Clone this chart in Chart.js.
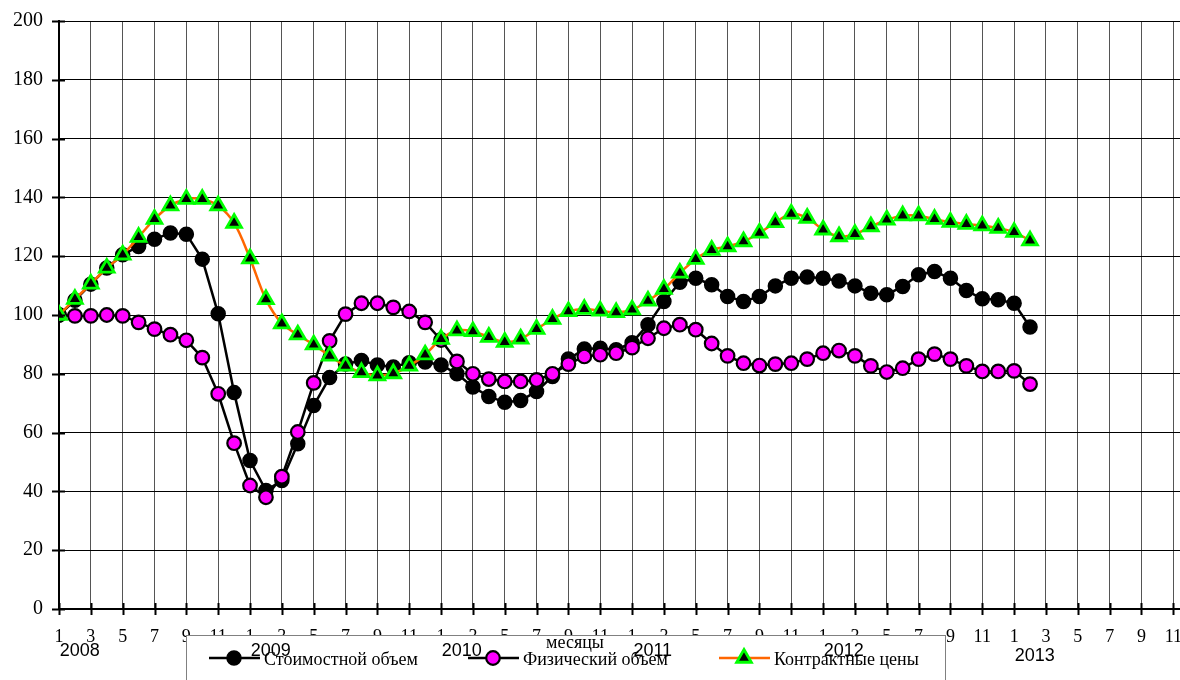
<!DOCTYPE html>
<html>
<head>
<meta charset="utf-8">
<script src="https://cdn.jsdelivr.net/npm/chart.js@4.4.1/dist/chart.umd.min.js"></script>
<style>
  html, body { margin: 0; padding: 0; background: #fff; }
  #wrap { width: 1180px; height: 680px; position: relative; }
</style>
</head>
<body>
<div id="wrap"><canvas id="indexChart" width="1180" height="680"></canvas></div>
<script>
// Values (month index 0 = January 2008)
const YEARS = ['2008', '2009', '2010', '2011', '2012', '2013'];
const MONTH_TICKS = ['1', '3', '5', '7', '9', '11'];
const Y_TICKS = [0, 20, 40, 60, 80, 100, 120, 140, 160, 180, 200];

const SERIES_NAMES = ['Стоимостной объем', 'Физический объем', 'Контрактные цены'];

const valueVolume = [
  100, 105, 110.5, 116, 120.5, 123.3, 125.8, 127.9, 127.5, 119,
  100.4, 73.6, 50.5, 40.3, 43.7, 56.2, 69.2, 78.7, 83.3, 84.5,
  83, 82.3, 83.8, 84, 83, 80, 75.5, 72.3, 70.3, 70.9,
  74, 79.1, 85, 88.4, 88.7, 88.2, 90.6, 96.7, 104.6, 111.1,
  112.5, 110.3, 106.3, 104.6, 106.3, 109.9, 112.5, 112.9, 112.5, 111.6,
  109.9, 107.4, 106.9, 109.7, 113.7, 114.8, 112.5, 108.3, 105.5, 105.2,
  104, 95.9
];

const physicalVolume = [
  100, 99.7, 99.7, 100, 99.7, 97.5, 95.2, 93.3, 91.4, 85.5,
  73.2, 56.4, 42, 38, 45, 60.2, 76.9, 91.2, 100.3, 104,
  104, 102.6, 101.2, 97.5, 91.5, 84.2, 80, 78.2, 77.4, 77.4,
  77.9, 80, 83.3, 85.9, 86.5, 87, 88.9, 92.1, 95.5, 96.7,
  95, 90.3, 86.1, 83.6, 82.8, 83.3, 83.6, 85, 87, 87.9,
  86.1, 82.7, 80.6, 81.9, 85, 86.7, 85, 82.7, 80.8, 80.8,
  81, 76.5
];

const contractPrices = [
  100, 105.4, 110.6, 116, 120.5, 126.5, 132.6, 137.2, 139.4, 139.4,
  137.2, 131.3, 119.2, 105.3, 97.1, 93.3, 89.9, 86.1, 82.7, 80.5,
  79.4, 80.1, 82.7, 86.5, 91.8, 94.7, 94.4, 92.5, 90.8, 91.9,
  95.2, 98.6, 101.2, 102, 101.4, 100.9, 101.8, 104.8, 108.8, 114.3,
  119, 122.1, 123.3, 125, 127.9, 131.5, 134.4, 133, 129, 126.7,
  127.5, 130.1, 132.4, 133.8, 133.8, 132.6, 131.6, 130.9, 130.4, 129.6,
  128.2, 125.3
];

const SERIF = "'Liberation Serif', 'Times New Roman', serif";
const SANS = "'Liberation Sans', Arial, sans-serif";

// month index -> {x, y}
const toPoints = (arr) => arr.map((v, i) => ({ x: i, y: v }));

// tick positions: every odd month of every year (1,3,...,11)
const xTickValues = [];
YEARS.forEach((_, yi) => MONTH_TICKS.forEach((_, mi) => xTickValues.push(yi * 12 + mi * 2)));

// --------------------------------------------------------------------------
// plugin: tick marks across the axes, boxed legend, year captions
// --------------------------------------------------------------------------
const decorPlugin = {
  id: 'decor',
  afterDraw(chart) {
    const { ctx, chartArea, scales } = chart;
    const xs = scales.x, ys = scales.y;

    ctx.save();
    ctx.strokeStyle = '#000';
    ctx.lineWidth = 2;
    ctx.beginPath();
    xTickValues.forEach(v => {
      const px = Math.round(xs.getPixelForValue(v)) + 0.5;
      ctx.moveTo(px, chartArea.bottom - 6);
      ctx.lineTo(px, chartArea.bottom + 6);
    });
    Y_TICKS.forEach(v => {
      const py = Math.round(ys.getPixelForValue(v)) + 0.5;
      ctx.moveTo(chartArea.left - 7, py);
      ctx.lineTo(chartArea.left + 6, py);
    });
    ctx.stroke();

    // legend box
    ctx.fillStyle = '#fff';
    ctx.fillRect(186, 635, 759, 60);
    ctx.strokeStyle = '#808080';
    ctx.lineWidth = 1;
    ctx.strokeRect(186.5, 635.5, 759, 60);

    const itemX = [209, 468, 719];
    const ly = 658;
    chart.data.datasets.forEach((ds, i) => {
      const x0 = itemX[i];
      ctx.strokeStyle = ds.borderColor;
      ctx.lineWidth = ds.borderWidth;
      ctx.beginPath();
      ctx.moveTo(x0, ly);
      ctx.lineTo(x0 + 51, ly);
      ctx.stroke();

      ctx.fillStyle = ds.pointBackgroundColor;
      ctx.strokeStyle = ds.pointBorderColor;
      ctx.lineWidth = ds.pointBorderWidth;
      Chart.helpers.drawPoint(ctx, {
        pointStyle: ds.pointStyle || 'circle',
        radius: ds.pointRadius,
        rotation: 0,
        borderWidth: ds.pointBorderWidth
      }, x0 + 25, ly);

      ctx.fillStyle = '#000';
      ctx.font = '18px ' + SERIF;
      ctx.textAlign = 'left';
      ctx.textBaseline = 'middle';
      ctx.fillText(ds.label, x0 + 55, ly + 2);
    });

    // axis caption and years (drawn over the legend, as in the source)
    ctx.fillStyle = '#000';
    ctx.textAlign = 'center';
    ctx.textBaseline = 'middle';
    ctx.font = '18px ' + SERIF;
    ctx.fillText('месяцы', 575, 643);

    ctx.font = '18px ' + SANS;
    YEARS.forEach((yr, yi) => {
      const px = xs.getPixelForValue(yi * 12 + 1.3);
      ctx.fillText(yr, px, yi === YEARS.length - 1 ? 656 : 651);
    });
    ctx.restore();
  }
};

const ctx = document.getElementById('indexChart').getContext('2d');
new Chart(ctx, {
  type: 'line',
  data: {
    datasets: [
      {
        label: SERIES_NAMES[0],
        data: toPoints(valueVolume),
        borderColor: '#000000',
        borderWidth: 2.5,
        pointRadius: 7,
        pointBackgroundColor: '#000000',
        pointBorderColor: '#000000',
        pointBorderWidth: 1.5,
        tension: 0,
        order: 2
      },
      {
        label: SERIES_NAMES[1],
        data: toPoints(physicalVolume),
        borderColor: '#000000',
        borderWidth: 2.5,
        pointRadius: 6.8,
        pointBackgroundColor: '#FF00FF',
        pointBorderColor: '#000000',
        pointBorderWidth: 2.2,
        tension: 0,
        order: 1
      },
      {
        label: SERIES_NAMES[2],
        data: toPoints(contractPrices),
        borderColor: '#FF6600',
        borderWidth: 2.5,
        pointStyle: 'triangle',
        pointRadius: 8.5,
        pointBackgroundColor: '#000000',
        pointBorderColor: '#00FF00',
        pointBorderWidth: 2.8,
        tension: 0.35,
        order: 0
      }
    ]
  },
  options: {
    responsive: false,
    animation: false,
    devicePixelRatio: 1,
    layout: { autoPadding: false, padding: { top: 21, right: 0, bottom: 0, left: 0 } },
    scales: {
      x: {
        type: 'linear',
        min: 0,
        max: 70.42,
        afterBuildTicks(scale) {
          scale.ticks = xTickValues.map(v => ({ value: v }));
        },
        afterFit(scale) {
          scale.height = 71;
          scale.paddingLeft = 0;
          scale.paddingRight = 0;
        },
        ticks: {
          autoSkip: false,
          maxRotation: 0,
          padding: 17,
          color: '#000',
          font: { family: SERIF, size: 18 },
          callback: (v) => MONTH_TICKS[(v % 12) / 2]
        },
        grid: { color: '#555', lineWidth: 1, drawTicks: false },
        border: { color: '#000', width: 2 }
      },
      y: {
        min: 0,
        max: 200,
        afterBuildTicks(scale) {
          scale.ticks = Y_TICKS.map(v => ({ value: v }));
        },
        afterFit(scale) {
          scale.width = 59;
          scale.paddingTop = 0;
          scale.paddingBottom = 0;
        },
        ticks: {
          padding: 16,
          color: '#000',
          font: { family: SERIF, size: 20 }
        },
        grid: { color: '#000', lineWidth: 1, drawTicks: false },
        border: { color: '#000', width: 2 }
      }
    },
    plugins: {
      legend: { display: false },
      tooltip: { enabled: false }
    }
  },
  plugins: [decorPlugin]
});
</script>
</body>
</html>
